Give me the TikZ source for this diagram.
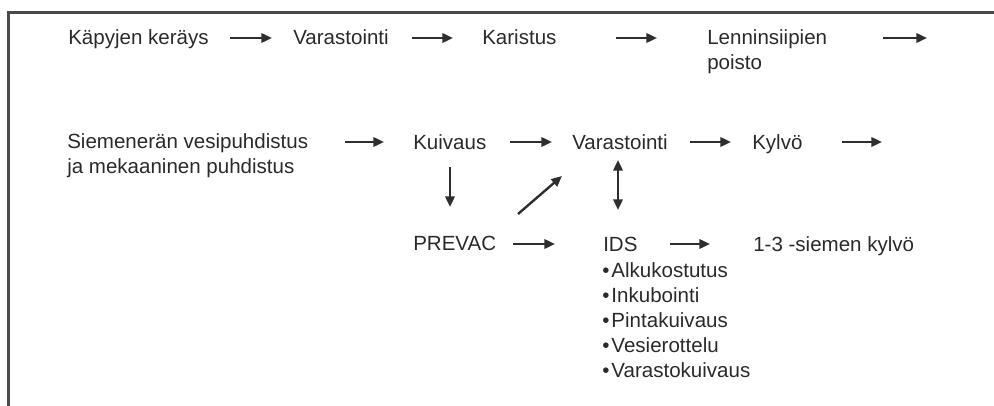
\documentclass[tikz,border=0pt]{standalone}
\usepackage{fontspec}
\setmainfont{Liberation Sans}
\usetikzlibrary{arrows.meta}
\definecolor{txt}{HTML}{2A2A2A}
\definecolor{arrc}{HTML}{2E2E2E}
\definecolor{frc}{HTML}{4A4A4A}
\begin{document}
\begin{tikzpicture}[x=0.75pt,y=-0.75pt,
  lbl/.style={anchor=base west,inner sep=0pt,font=\fontsize{15.4}{18.75}\selectfont,text=txt},
  arr/.style={draw=arrc,line width=1.8pt,-{Triangle[length=8pt,width=7pt]}},
  darr/.style={draw=arrc,line width=1.8pt,{Triangle[length=8pt,width=7pt]}-{Triangle[length=8pt,width=7pt]}},
  frame/.style={draw=frc,line width=1.6pt}]
\useasboundingbox (0,0) rectangle (994,406);
% frame
\coordinate (fbl) at (8.5,406);
\coordinate (ftl) at (8.5,12.5);
\coordinate (ftr) at (994,12.5);
\draw[frame] (fbl) -- (ftl) -- (ftr);
% row 1
\node[lbl] (kap) at (68,45) {Käpyjen keräys};
\node[lbl] (var1) at (293,45) {Varastointi};
\node[lbl] (kar) at (482,45) {Karistus};
\node[lbl] (len) at (707,45) {Lenninsiipien};
\node[lbl] (len2) at (707,70) {poisto};
\coordinate (a1s) at (230,38); \coordinate (a1e) at (272,38);
\coordinate (a2s) at (412,38); \coordinate (a2e) at (453,38);
\coordinate (a3s) at (616,38); \coordinate (a3e) at (657,38);
\coordinate (a4s) at (883,38); \coordinate (a4e) at (927,38);
\draw[arr] (a1s) -- (a1e);
\draw[arr] (a2s) -- (a2e);
\draw[arr] (a3s) -- (a3e);
\draw[arr] (a4s) -- (a4e);
% row 2
\node[lbl] (siem) at (67,148) {Siemenerän vesipuhdistus};
\node[lbl] (siem2) at (67,173) {ja mekaaninen puhdistus};
\node[lbl] (kuiv) at (413,149) {Kuivaus};
\node[lbl] (var2) at (572,149) {Varastointi};
\node[lbl] (kyl) at (752,149) {Kylvö};
\coordinate (b1s) at (345,142); \coordinate (b1e) at (384,142);
\coordinate (b2s) at (510,142); \coordinate (b2e) at (552,142);
\coordinate (b3s) at (690,142); \coordinate (b3e) at (731,142);
\coordinate (b4s) at (842,142); \coordinate (b4e) at (882,142);
\draw[arr] (b1s) -- (b1e);
\draw[arr] (b2s) -- (b2e);
\draw[arr] (b3s) -- (b3e);
\draw[arr] (b4s) -- (b4e);
% vertical / diagonal
\coordinate (d1s) at (450,167); \coordinate (d1e) at (450,207);
\coordinate (d2s) at (518,214); \coordinate (d2e) at (562,176);
\coordinate (d3s) at (618,160); \coordinate (d3e) at (618,210);
\draw[arr] (d1s) -- (d1e);
\draw[arr] (d2s) -- (d2e);
\draw[darr] (d3s) -- (d3e);
% row 3
\node[lbl] (prev) at (413,250) {PREVAC};
\node[lbl] (ids) at (603,251) {IDS};
\node[lbl] (sie) at (753,251) {1-3 -siemen kylvö};
\coordinate (c1s) at (513,244); \coordinate (c1e) at (555,244);
\coordinate (c2s) at (670,244); \coordinate (c2e) at (710,244);
\draw[arr] (c1s) -- (c1e);
\draw[arr] (c2s) -- (c2e);
% IDS list
\node[lbl] (i1) at (602,277) {•\hspace{1.5pt}Alkukostutus};
\node[lbl] (i2) at (602,302) {•\hspace{1.5pt}Inkubointi};
\node[lbl] (i3) at (602,327) {•\hspace{1.5pt}Pintakuivaus};
\node[lbl] (i4) at (602,352) {•\hspace{1.5pt}Vesierottelu};
\node[lbl] (i5) at (602,377) {•\hspace{1.5pt}Varastokuivaus};
\end{tikzpicture}
\end{document}
